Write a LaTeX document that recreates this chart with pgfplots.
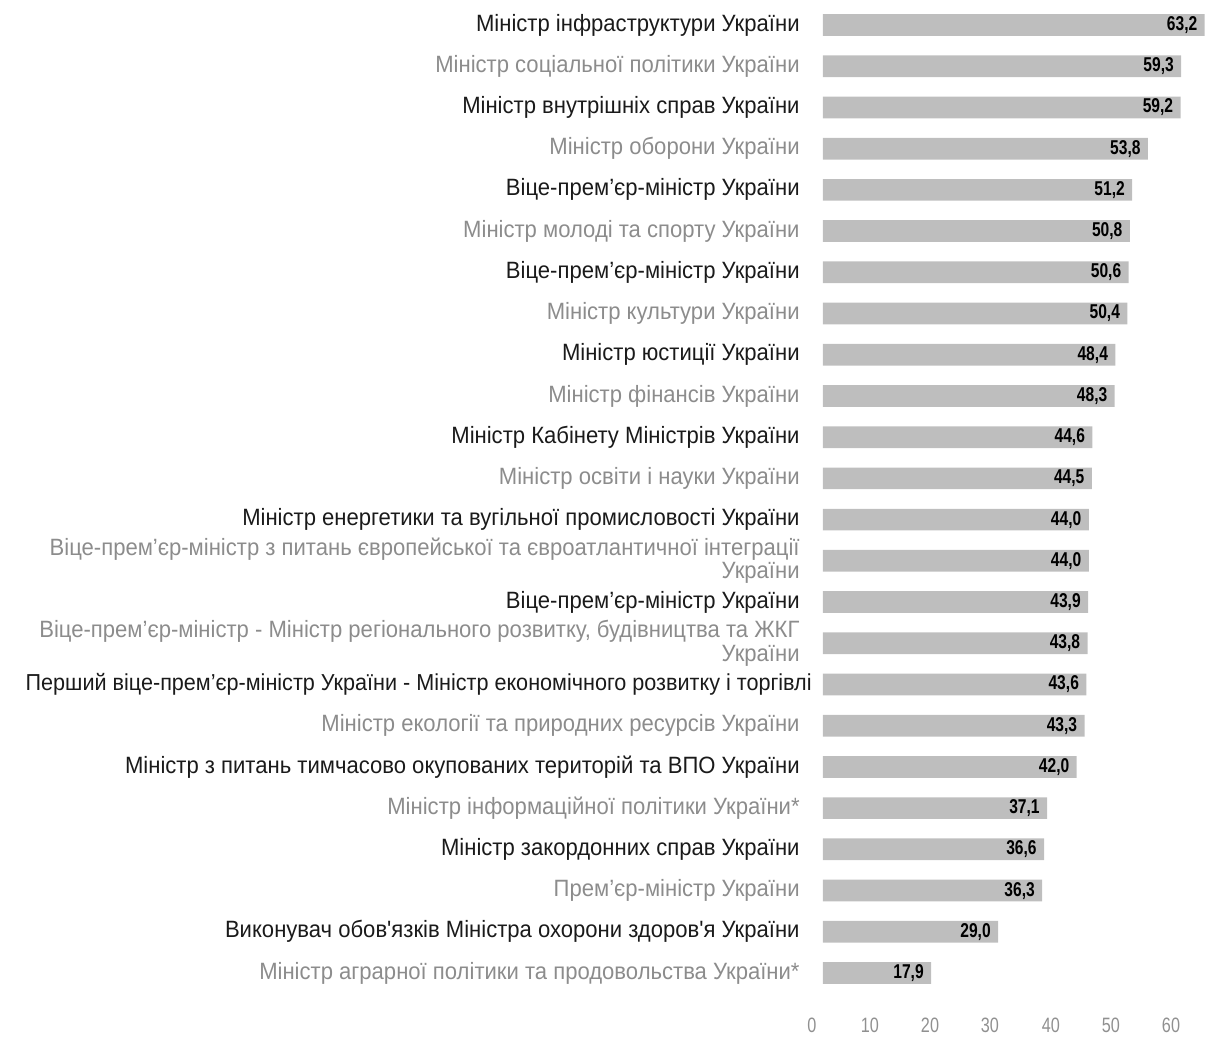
\documentclass[border=0pt]{standalone}
\usepackage{fontspec}
\setmainfont{Liberation Sans}
\newfontfamily\catfont{Liberation Sans}[FakeStretch=0.935]
\newfontfamily\numfont{Liberation Sans}[FakeStretch=0.78]
\usepackage{pgfplots}
\pgfplotsset{compat=1.18}
\definecolor{lblk}{HTML}{1A1A1A}
\definecolor{lgry}{HTML}{8C8C8C}
\definecolor{tickgray}{HTML}{909090}
\definecolor{barcol}{HTML}{BEBEBE}
\begin{document}
\begin{tikzpicture}
\useasboundingbox (-405.46pt,-22.2pt) rectangle ++(602.5pt,519pt);
\begin{axis}[
  at={(0,0)}, anchor=south west,
  scale only axis, width=197.03pt, height=494.6pt,
  xmin=-2, xmax=63.24, ymin=-0.5, ymax=23.5, y dir=reverse,
  axis line style={draw=none}, tick style={draw=none}, major tick length=0pt,
  xbar, bar width=10.85pt,
  ytick={0,...,23},
  yticklabels={
    {Міністр інфраструктури України},
    {\color{lgry}Міністр соціальної політики України},
    {Міністр внутрішніх справ України},
    {\color{lgry}Міністр оборони України},
    {Віце-прем’єр-міністр України},
    {\color{lgry}Міністр молоді та спорту України},
    {Віце-прем’єр-міністр України},
    {\color{lgry}Міністр культури України},
    {Міністр юстиції України},
    {\color{lgry}Міністр фінансів України},
    {Міністр Кабінету Міністрів України},
    {\color{lgry}Міністр освіти і науки України},
    {Міністр енергетики та вугільної промисловості України},
    {\color{lgry}Віце-прем’єр-міністр з питань європейської та євроатлантичної інтеграції\\\color{lgry}України},
    {Віце-прем’єр-міністр України},
    {\color{lgry}Віце-прем’єр-міністр - Міністр регіонального розвитку, будівництва та ЖКГ\\\color{lgry}України},
    {\fontsize{11.55}{9.8}\selectfont Перший віце-прем’єр-міністр України - Міністр економічного розвитку і торгівлі\kern-6pt},
    {\color{lgry}Міністр екології та природних ресурсів України},
    {Міністр з питань тимчасово окупованих територій та ВПО України},
    {\color{lgry}Міністр інформаційної політики України*},
    {Міністр закордонних справ України},
    {\color{lgry}Прем’єр-міністр України},
    {Виконувач обов'язків Міністра охорони здоров'я України},
    {\color{lgry}Міністр аграрної політики та продовольства України*}
  },
  yticklabel style={anchor=east, inner sep=0pt, xshift=-5.45pt, align=right, text=lblk,
    font=\catfont\fontsize{11.8}{9.8}\selectfont},
  xtick={-1.82,7.78,17.72,27.65,37.75,47.68,57.62},
  xticklabels={0,10,20,30,40,50,60},
  xticklabel style={anchor=center, yshift=-15.7pt, inner sep=0pt, text=tickgray,
    font=\numfont\fontsize{10.4}{12}\selectfont},
  nodes near coords, point meta=x,
  every node near coord/.append style={anchor=east, xshift=-3.5pt, inner sep=0pt,
    font=\numfont\bfseries\fontsize{10}{12}\selectfont, text=black},
  /pgf/number format/.cd, fixed, fixed zerofill, precision=1, use comma, assume math mode=true
]
\addplot[fill=barcol, draw=none] coordinates {
  (63.2,0) (59.3,1) (59.2,2) (53.8,3) (51.2,4) (50.8,5) (50.6,6) (50.4,7)
  (48.4,8) (48.3,9) (44.6,10) (44.5,11) (44.0,12) (44.0,13) (43.9,14) (43.8,15)
  (43.6,16) (43.3,17) (42.0,18) (37.1,19) (36.6,20) (36.3,21) (29.0,22) (17.9,23)
};
\end{axis}
\end{tikzpicture}
\end{document}
